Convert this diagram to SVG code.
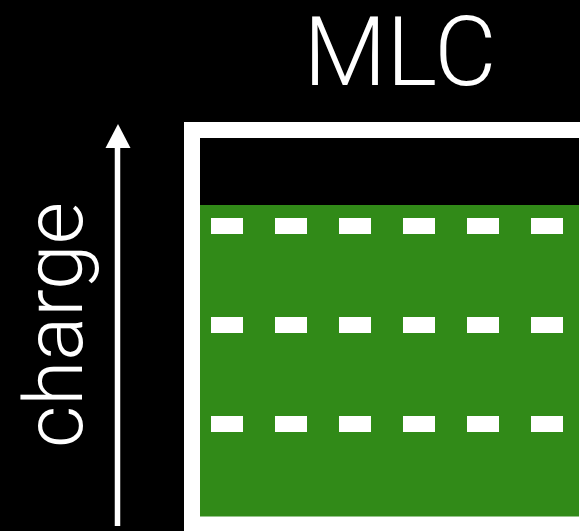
<svg xmlns="http://www.w3.org/2000/svg" width="580" height="531" viewBox="0 0 580 531">
  <style>
    .label { fill: #ffffff; font-family: "Roboto", "Liberation Sans", sans-serif; font-weight: 300; }
    .dash { fill: #ffffff; }
  </style>
  <defs>
    <marker id="arrowhead" viewBox="0 0 25 24" refX="12.5" refY="0" markerUnits="userSpaceOnUse" markerWidth="25" markerHeight="24" orient="auto-start-reverse">
      <path d="M12.5 0 L25 24 L0 24 Z" fill="#ffffff"/>
    </marker>
  </defs>

  <!-- background -->
  <rect x="0" y="0" width="580" height="531" fill="#000000"/>

  <!-- title -->
  <g id="title">
    <text class="label" x="400" y="85" font-size="96" text-anchor="middle">MLC</text>
  </g>

  <!-- vertical axis -->
  <g id="connectors">
    <line x1="117.5" y1="526" x2="117.5" y2="146" stroke="#ffffff" stroke-width="5.5"/>
    <path d="M118 124 L130.5 148 L105.5 148 Z" fill="#ffffff"/>
  </g>
  <g id="axis-label">
    <text class="label" transform="translate(82 325) rotate(-90)" font-size="82" text-anchor="middle">charge</text>
  </g>

  <!-- cell: frame, charge level, threshold dashes -->
  <g id="cell">
    <rect x="200" y="205" width="380" height="326" fill="#318a18"/>
    <rect x="192" y="130" width="395" height="394.5" fill="none" stroke="#ffffff" stroke-width="16"/>
    <g id="threshold-1">
      <rect class="dash" x="211" y="218" width="32" height="16"/>
      <rect class="dash" x="275" y="218" width="32" height="16"/>
      <rect class="dash" x="339" y="218" width="32" height="16"/>
      <rect class="dash" x="403" y="218" width="32" height="16"/>
      <rect class="dash" x="467" y="218" width="32" height="16"/>
      <rect class="dash" x="531" y="218" width="32" height="16"/>
    </g>
    <g id="threshold-2">
      <rect class="dash" x="211" y="317" width="32" height="16"/>
      <rect class="dash" x="275" y="317" width="32" height="16"/>
      <rect class="dash" x="339" y="317" width="32" height="16"/>
      <rect class="dash" x="403" y="317" width="32" height="16"/>
      <rect class="dash" x="467" y="317" width="32" height="16"/>
      <rect class="dash" x="531" y="317" width="32" height="16"/>
    </g>
    <g id="threshold-3">
      <rect class="dash" x="211" y="416" width="32" height="16"/>
      <rect class="dash" x="275" y="416" width="32" height="16"/>
      <rect class="dash" x="339" y="416" width="32" height="16"/>
      <rect class="dash" x="403" y="416" width="32" height="16"/>
      <rect class="dash" x="467" y="416" width="32" height="16"/>
      <rect class="dash" x="531" y="416" width="32" height="16"/>
    </g>
  </g>
</svg>
